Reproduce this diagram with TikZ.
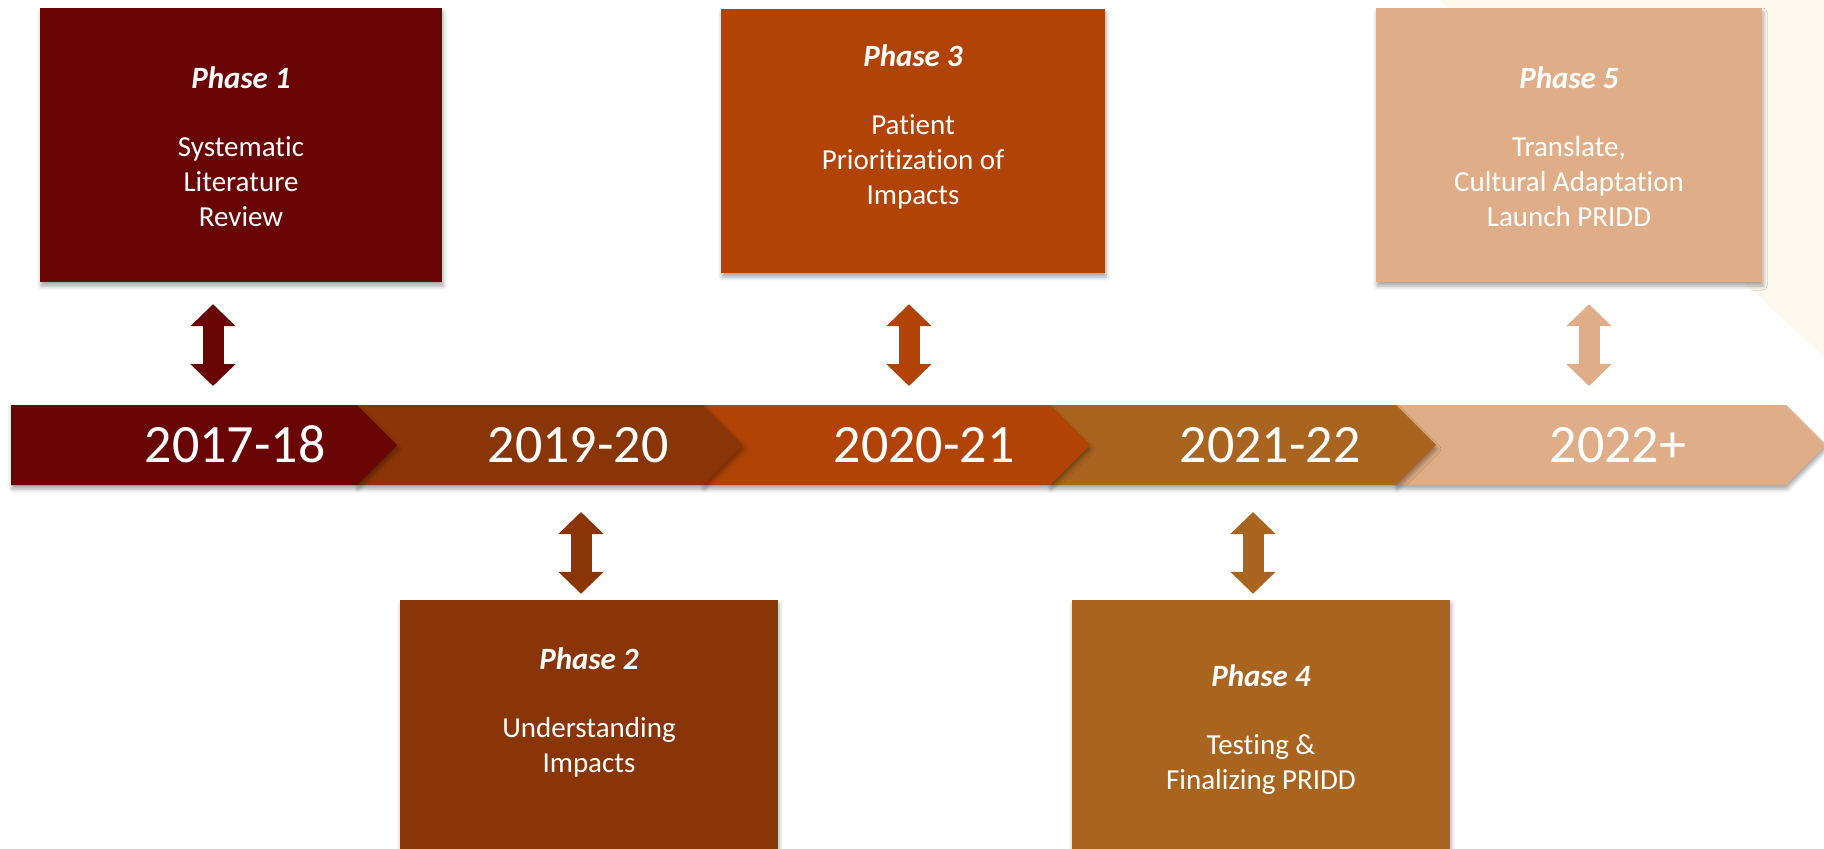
\documentclass[tikz,border=0pt]{standalone}
\usepackage{fontspec}
\setmainfont{Carlito}[Ligatures=NoCommon]
\usetikzlibrary{arrows.meta,shadows.blur}

\definecolor{phaseA}{HTML}{6A0505}
\definecolor{phaseB}{HTML}{8A3508}
\definecolor{phaseC}{HTML}{B14306}
\definecolor{phaseD}{HTML}{A9651F}
\definecolor{phaseE}{HTML}{DFAE88}
\definecolor{cream}{HTML}{FDF8EE}

\tikzset{
  softshadow/.style={blur shadow={shadow xshift=1pt, shadow yshift=-4pt, shadow blur radius=4pt, shadow opacity=35}},
  phasebox/.style={rectangle, inner sep=0pt, softshadow},
  phasetext/.style={text=white, align=center, inner sep=0pt, anchor=north, font=\fontsize{29}{35}\selectfont},
  yeartext/.style={text=white, anchor=base, inner sep=0pt, font=\fontsize{54}{60}\selectfont},
  link/.style={line width=21pt, {Triangle[width=44pt,length=22pt]}-{Triangle[width=44pt,length=22pt]}},
}
\newcommand{\phasetitle}[1]{{\fontsize{31}{35}\selectfont\bfseries\itshape #1}}

\begin{document}
\begin{tikzpicture}[x=1pt, y=-1pt]
    \useasboundingbox (0,0) rectangle (1824,849);
    \fill[cream] (1440,0) -- (1824,0) -- (1824,357) -- cycle;

    % Timeline band
    \foreach \l/\r/\c in {1396/1786/phaseE, 1050/1396/phaseD, 703/1050/phaseC, 357/703/phaseB, 11/357/phaseA}
        \fill[\c, softshadow] (\l,405) -- (\r,405) -- (\r+40,445) -- (\r,485) -- (\l,485) -- cycle;
    \foreach \x/\yr [count=\i] in {235/2017-18, 578/2019-20, 924/2020-21, 1270/2021-22, 1618/2022+}
        \node[yeartext] (y\i) at (\x,462) {\yr};

    % Phase boxes
    \node[phasebox, fill=phaseA, minimum width=402pt, minimum height=274pt] (p1box) at (241,145) {};
    \node[phasebox, fill=phaseC, minimum width=384pt, minimum height=264pt] (p3box) at (913,141) {};
    \node[phasebox, fill=phaseE, minimum width=386pt, minimum height=274pt] (p5box) at (1569,145) {};
    \node[phasebox, fill=phaseB, minimum width=378pt, minimum height=270pt] (p2box) at (589,735) {};
    \node[phasebox, fill=phaseD, minimum width=378pt, minimum height=270pt] (p4box) at (1261,735) {};

    \node[phasetext] (t1) at (241,67) {\phasetitle{Phase 1}\\[33pt]Systematic\\Literature\\Review};
    \node[phasetext] (t3) at (913,45) {\phasetitle{Phase 3}\\[33pt]Patient\\Prioritization of\\Impacts};
    \node[phasetext] (t5) at (1569,67) {\phasetitle{Phase 5}\\[33pt]Translate,\\Cultural Adaptation\\Launch PRIDD};
    \node[phasetext] (t2) at (589,648) {\phasetitle{Phase 2}\\[33pt]Understanding\\Impacts};
    \node[phasetext] (t4) at (1261,665) {\phasetitle{Phase 4}\\[33pt]Testing \&\\Finalizing PRIDD};

    % Arrows between boxes and band
    \coordinate (k1) at (213,405);
    \coordinate (k3) at (909,405);
    \coordinate (k5) at (1589,405);
    \coordinate (k2) at (581,485);
    \coordinate (k4) at (1253,485);
    \draw[link, phaseA, shorten <=22pt, shorten >=19pt] (p1box.south -| k1) -- (k1);
    \draw[link, phaseC, shorten <=31pt, shorten >=19pt] (p3box.south -| k3) -- (k3);
    \draw[link, phaseE, shorten <=22pt, shorten >=19pt] (p5box.south -| k5) -- (k5);
    \draw[link, phaseB, shorten <=6pt, shorten >=27pt] (p2box.north -| k2) -- (k2);
    \draw[link, phaseD, shorten <=6pt, shorten >=27pt] (p4box.north -| k4) -- (k4);
\end{tikzpicture}
\end{document}
